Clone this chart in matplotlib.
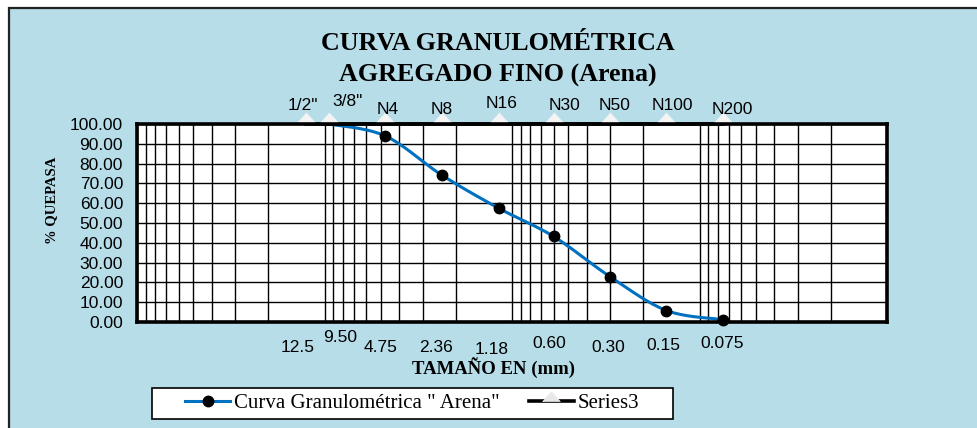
import numpy as np
import matplotlib
matplotlib.use("Agg")
import matplotlib.pyplot as plt
from matplotlib.patches import Rectangle
from matplotlib.lines import Line2D
from matplotlib.ticker import LogLocator, NullFormatter, FixedLocator, FormatStrFormatter

# ---------------- data ----------------
sieve_sizes = [9.5, 4.75, 2.36, 1.18, 0.60, 0.30, 0.15, 0.075]
percent_passing = [100.0, 94.0, 74.1, 57.5, 43.2, 22.9, 5.8, 1.2]

series3_sizes = [12.5, 9.5, 4.75, 2.36, 1.18, 0.60, 0.30, 0.15, 0.075]
series3_values = [100, 100, 100, 100, 100, 100, 100, 100, 100]
sieve_names = ['1/2"', '3/8"', 'N4', 'N8', 'N16', 'N30', 'N50', 'N100', 'N200']
size_labels = ['12.5', '9.50', '4.75', '2.36', '1.18', '0.60', '0.30', '0.15', '0.075']

y_ticks = [0, 10, 20, 30, 40, 50, 60, 70, 80, 90, 100]

# label offsets (pixels) -- styling only
top_dx = [-3, 19, 3, 0, 3, 11, 5, 6, 9]
top_dy = [18, 23, 15, 15, 21, 18, 18, 19, 15]
bot_dx = [-9, 11, -5, -6, -7, -4, -2, -3, -1]
bot_dy = [25, 16, 25, 26, 27, 22, 25, 23, 21]

SERIF = ["Liberation Serif", "DejaVu Serif"]
SANS = ["Liberation Sans", "DejaVu Sans"]
BG = "#B7DDE8"
BLUE = "#0070C0"
TRI = "#F4F4F4"
TRI_MARKER = [(-0.9, 0), (0.9, 0), (0, 1), (-0.9, 0)]

W, H = 977, 428
fig = plt.figure(figsize=(W / 100, H / 100), dpi=100)
fig.patch.set_facecolor("white")

# chart area background with dark border (extends past right/bottom)
fig.patches.append(Rectangle((8.5 / W, -0.1), 1.2, 1.1 - 7.5 / H,
                             transform=fig.transFigure, facecolor=BG,
                             edgecolor="#222222", linewidth=1.6, zorder=-10))

ax = fig.add_axes([137 / W, 1 - 322 / H, (887 - 137) / W, (322 - 124) / H])
ax.set_facecolor("white")
ax.set_xscale("log")
ax.set_xlim(100, 0.01)
ax.set_ylim(0, 100)

ax.xaxis.set_major_locator(LogLocator(base=10))
ax.xaxis.set_minor_locator(LogLocator(base=10, subs=np.arange(2, 10)))
ax.xaxis.set_major_formatter(NullFormatter())
ax.xaxis.set_minor_formatter(NullFormatter())
ax.yaxis.set_major_locator(FixedLocator(y_ticks))
ax.yaxis.set_major_formatter(FormatStrFormatter("%.2f"))
ax.grid(which="both", axis="x", color="black", linewidth=1.0)
ax.grid(which="major", axis="y", color="black", linewidth=1.0)
ax.tick_params(axis="both", which="both", length=0)
ax.tick_params(axis="y", pad=10, labelsize=12.5)
for lbl in ax.get_yticklabels():
    lbl.set_fontfamily(SANS)
for sp in ax.spines.values():
    sp.set_linewidth(2.6)
    sp.set_color("black")
    sp.set_zorder(10)

# smooth curve (Excel-like Bezier smoothing through the data points)
fig.canvas.draw()
pts = ax.transData.transform(np.column_stack([sieve_sizes, percent_passing]))
n = len(pts)
curve = []
tt = np.linspace(0, 1, 30)
for i in range(n - 1):
    p0 = pts[max(i - 1, 0)]
    p1 = pts[i]
    p2 = pts[i + 1]
    p3 = pts[min(i + 2, n - 1)]
    c1 = p1 + (p2 - p0) / 6.0
    c2 = p2 - (p3 - p1) / 6.0
    seg = ((1 - tt) ** 3)[:, None] * p1 + (3 * (1 - tt) ** 2 * tt)[:, None] * c1 \
        + (3 * (1 - tt) * tt ** 2)[:, None] * c2 + (tt ** 3)[:, None] * p2
    curve.append(seg)
curve = ax.transData.inverted().transform(np.vstack(curve))
ax.plot(curve[:, 0], curve[:, 1], color=BLUE, linewidth=2.2, zorder=6, clip_on=False,
        solid_capstyle="round")
ax.plot(sieve_sizes, percent_passing, linestyle="none", marker="o", markersize=7.5,
        color="black", zorder=7, clip_on=False, markevery=slice(1, None))

# Series3 (sieve markers at top)
ax.plot(series3_sizes, series3_values, color="black", linewidth=2.6, marker=TRI_MARKER,
        markersize=16.5, markerfacecolor=TRI, markeredgecolor=TRI, markeredgewidth=0.5,
        zorder=8, clip_on=False)

for x, name, dx, dy in zip(series3_sizes, sieve_names, top_dx, top_dy):
    ax.annotate(name, xy=(x, 100), xytext=(dx * 0.72, dy * 0.72),
                textcoords="offset points", ha="center", va="center",
                fontsize=12.5, family=SANS, annotation_clip=False, zorder=12)
for x, lab, dx, dy in zip(series3_sizes, size_labels, bot_dx, bot_dy):
    ax.annotate(lab, xy=(x, 0), xytext=(dx * 0.72, -dy * 0.72),
                textcoords="offset points", ha="center", va="center",
                fontsize=12.5, family=SANS, annotation_clip=False)

# titles and axis labels
fig.text(497.5 / W, 1 - 50 / H, "CURVA GRANULOMÉTRICA", ha="center", va="baseline",
         fontsize=18.7, fontweight="bold", family=SERIF)
fig.text(497.5 / W, 1 - 82 / H, "AGREGADO FINO (Arena)", ha="center", va="baseline",
         fontsize=18.7, fontweight="bold", family=SERIF)
fig.text(494 / W, 1 - 374 / H, "TAMAÑO EN (mm)", ha="center", va="baseline",
         fontsize=13.5, fontweight="bold", family=SERIF)
fig.text(52 / W, 1 - 200 / H, "% QUEPASA", ha="center", va="center", rotation=90,
         fontsize=10.5, fontweight="bold", family=SERIF)

# legend box (drawn manually) and entries
fig.patches.append(Rectangle((152 / W, 1 - 419 / H), (673 - 152) / W, 31 / H,
                             transform=fig.transFigure, facecolor="white",
                             edgecolor="black", linewidth=1.2, zorder=5))
h1 = Line2D([], [], color=BLUE, linewidth=2.2, marker="o", markersize=7.5,
            markerfacecolor="black", markeredgecolor="black")
h2 = Line2D([], [], color="black", linewidth=2.6, marker=TRI_MARKER, markersize=14,
            markerfacecolor="#E8E8E8", markeredgecolor="#E8E8E8", markeredgewidth=0.5)
leg = fig.legend([h1, h2], ['Curva Granulométrica " Arena"', "Series3"],
                 loc="center", bbox_to_anchor=(412.5 / W, 1 - 403.5 / H), ncol=2,
                 frameon=False, prop={"family": SERIF, "size": 15},
                 handlelength=2.15, handletextpad=0.2, columnspacing=1.4,
                 borderpad=0.2, numpoints=1)
leg.set_zorder(6)

fig.savefig("out.png", dpi=100, facecolor=fig.get_facecolor())
